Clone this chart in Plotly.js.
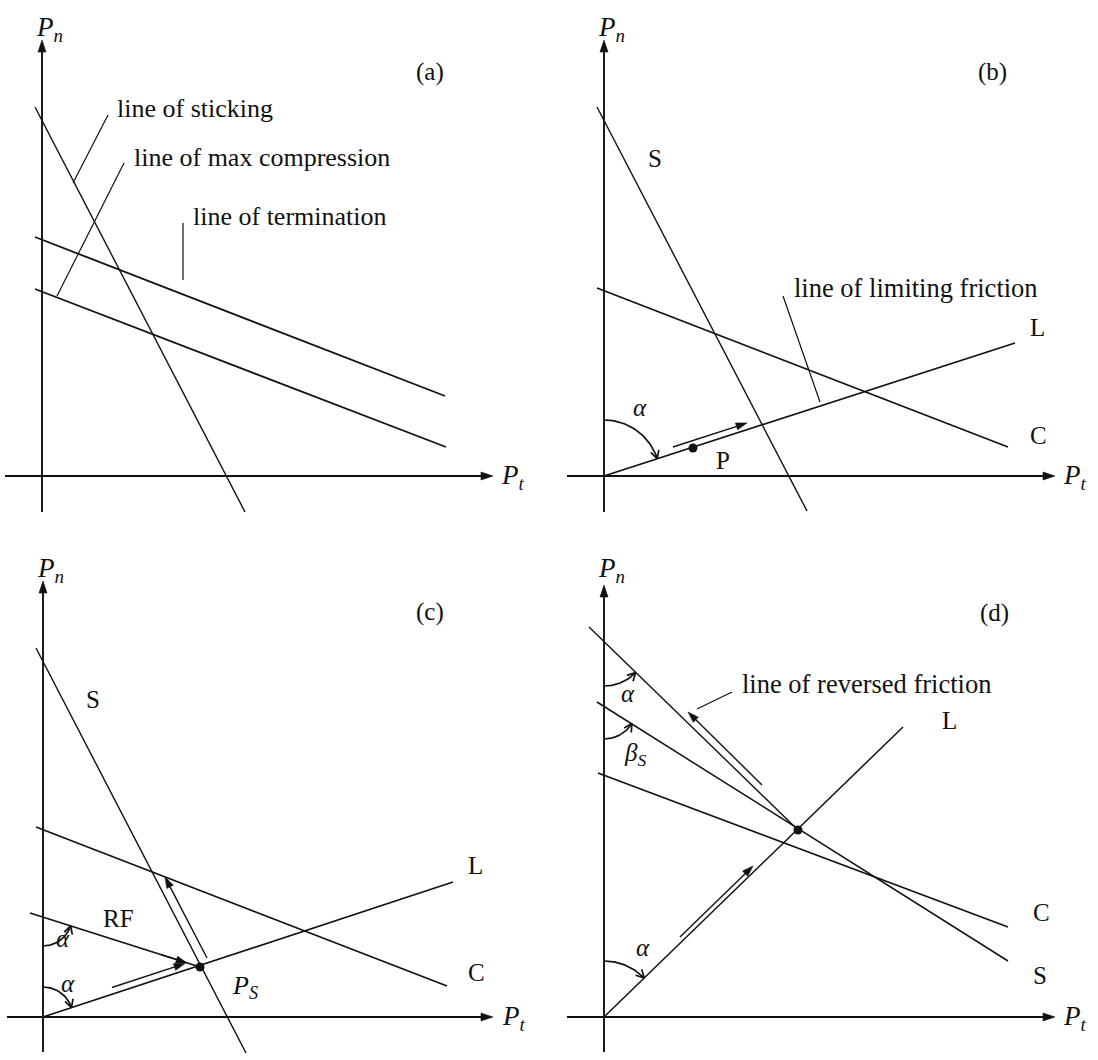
<!DOCTYPE html>
<html><head><meta charset="utf-8">
<script src="https://cdn.plot.ly/plotly-3.0.1.min.js"></script>
<style>html,body{margin:0;padding:0;background:#fff}</style>
</head><body><div id="chart" style="width:1098px;height:1060px"></div>
<script>
// Local coordinates of each panel: origin at the P_t / P_n axes crossing, y upwards, 1 unit = 1 px
// Axis extents [Pt from, Pt to (arrow tip), Pn from, Pn to (arrow tip)]
const axesA = [-37, 451, -36, 436];
const axesB = [-37, 451, -36, 436];
const axesC = [-36, 450, -35, 436];
const axesD = [-37, 451, -35, 432];

// Straight lines [x0, y0, x1, y1, width]
const linesA = [[-7,369,203,-36,1.4],[-7,239,403,80,1.8],[-7,187,404,29,1.8]];
const linesB = [[-7,369,203,-35,1.4],[-7,188,404,29,1.7],[0,0,411,133,1.7]];
const linesC = [[-7,369,203,-36,1.4],[-7,190,404,31,1.7],[0,0,410,135,1.7],[-13,104,157,50,1.6]];
const linesD = [[-15,390,194,187,1.4],[-7,315,404,56,1.5],[-6,244,404,90,1.7],[0,0,299,290,1.5]];

// Leader lines from labels [x0, y0, x1, y1]
const leadersA = [[31,293,66,361],[15,180,82,313],[141,253,141,196]];
const leadersB = [[179,180,216,74]];
const leadersC = [];
const leadersD = [[128,325,93,308]];

// Direction arrows [tail x, tail y, tip x, tip y]
const arrowsA = [];
const arrowsB = [[69,29,143,53]];
const arrowsC = [[69,29.5,142,53.5],[164,59,122,140],[118,62.3,144,54]];
const arrowsD = [[76,80,149,151],[158,232,84,305]];

// Points [x, y]
const dotsA = [];
const dotsB = [[89,28]];
const dotsC = [[157,50]];
const dotsD = [[194,187]];

// Angle arcs [centre x, centre y, radius, start deg, end deg]
const arcsA = [];
const arcsB = [[0,0,56,90,18]];
const arcsC = [[0,100,29,-90,-17.6],[0,0,30,90,18.2]];
const arcsD = [[0,375,44,-90,-44.2],[0,311,33,-90,-32.2],[0,0,56,90,44.1]];

// Labels [text, x, y, xanchor, size]
const PN = '<i>P</i><sub><i>n</i></sub>';
const PT = '<i>P</i><sub><i>t</i></sub>';
const labelsA = [[PN,-8,447,'left',27],[PT,457,-1,'left',27],['(a)',388,404,'center',25],
  ['line of sticking',73,368,'left',26],['line of max compression',90,319,'left',26],['line of termination',149,260,'left',26]];
const labelsB = [[PN,-8,447,'left',27],[PT,457,-1,'left',27],['(b)',388,404,'center',25],
  ['line of limiting friction',188,188,'left',26.5],['S',51,318,'center',25],['L',433,149,'center',25],
  ['C',434,41,'center',25],['P',119,16,'center',25],['<i>α</i>',36,69,'center',25]];
const labelsC = [[PN,-8,447,'left',27],[PT,457,-1,'left',27],['(c)',387,405,'center',25],
  ['S',50,318,'center',25],['RF',75,99,'center',25],['<i>α</i>',20,79,'center',25],['<i>α</i>',25,34,'center',25],
  ['<i>P</i><sub><i>S</i></sub>',202,30,'center',26],['L',432,152,'center',25],['C',433,45,'center',25]];
const labelsD = [[PN,-8,447,'left',27],[PT,457,-1,'left',27],['(d)',390,404,'center',25],
  ['line of reversed friction',136,333,'left',26.5],['L',345,297,'center',25],['C',437,105,'center',25],
  ['S',436,42,'center',25],['<i>α</i>',24,324,'center',25],['<i>β</i><sub><i>S</i></sub>',31,263,'center',25],
  ['<i>α</i>',39,70,'center',25]];

const INK = '#111111';
const FONT = "'Liberation Serif', 'Times New Roman', serif";
const traces = [];
const annotations = [];

function lineTrace(xs, ys, w, xa, ya){
  traces.push({x:xs, y:ys, mode:'lines', line:{color:INK, width:w}, xaxis:xa, yaxis:ya, hoverinfo:'skip', showlegend:false});
}
function filledHead(tx, ty, ux, uy, len, hw, xa, ya){
  const n = Math.hypot(ux, uy); ux/=n; uy/=n;
  const bx = tx - len*ux, by = ty - len*uy;
  traces.push({x:[tx, bx - hw*uy, bx + hw*uy, tx], y:[ty, by + hw*ux, by - hw*ux, ty],
    mode:'lines', fill:'toself', fillcolor:INK, line:{color:INK, width:0.6},
    xaxis:xa, yaxis:ya, hoverinfo:'skip', showlegend:false});
}
function openHead(tx, ty, ux, uy, len, xa, ya){
  const n = Math.hypot(ux, uy); ux/=n; uy/=n;
  const a = 28*Math.PI/180, c = Math.cos(a), s = Math.sin(a);
  const r1x = ux*c - uy*s, r1y = ux*s + uy*c;
  const r2x = ux*c + uy*s, r2y = -ux*s + uy*c;
  lineTrace([tx - len*r1x, tx, tx - len*r2x], [ty - len*r1y, ty, ty - len*r2y], 1.7, xa, ya);
}

function drawPanel(axes, lines, leaders, arrows, dots, arcs, labels, xa, ya){
  lineTrace([axes[0], axes[1]-6], [0,0], 1.9, xa, ya);
  lineTrace([0,0], [axes[2], axes[3]-6], 1.9, xa, ya);
  filledHead(axes[1], 0, 1, 0, 12, 4, xa, ya);
  filledHead(0, axes[3], 0, 1, 12, 4, xa, ya);
  lines.forEach(l => lineTrace([l[0], l[2]], [l[1], l[3]], l[4], xa, ya));
  leaders.forEach(l => lineTrace([l[0], l[2]], [l[1], l[3]], 1.2, xa, ya));
  arrows.forEach(a => {
    const dx = a[2]-a[0], dy = a[3]-a[1], n = Math.hypot(dx, dy);
    lineTrace([a[0], a[2]-6*dx/n], [a[1], a[3]-6*dy/n], 1.4, xa, ya);
    filledHead(a[2], a[3], dx, dy, 11, 3.6, xa, ya);
  });
  dots.forEach(d => traces.push({x:[d[0]], y:[d[1]], mode:'markers', marker:{color:INK, size:9},
    xaxis:xa, yaxis:ya, hoverinfo:'skip', showlegend:false}));
  arcs.forEach(c => {
    const xs = [], ys = [], N = 32;
    for (let i = 0; i <= N; i++){
      const t = (c[3] + (c[4]-c[3])*i/N) * Math.PI/180;
      xs.push(c[0] + c[2]*Math.cos(t)); ys.push(c[1] + c[2]*Math.sin(t));
    }
    lineTrace(xs, ys, 1.7, xa, ya);
    const te = c[4]*Math.PI/180, sgn = c[4] > c[3] ? 1 : -1;
    openHead(xs[N], ys[N], -sgn*Math.sin(te), sgn*Math.cos(te), 9, xa, ya);
  });
  labels.forEach(l => annotations.push({text:l[0], x:l[1], y:l[2], xref:xa, yref:ya, xanchor:l[3], yanchor:'middle',
    showarrow:false, font:{family:FONT, size:l[4], color:INK}}));
}

drawPanel(axesA, linesA, leadersA, arrowsA, dotsA, arcsA, labelsA, 'x', 'y');
drawPanel(axesB, linesB, leadersB, arrowsB, dotsB, arcsB, labelsB, 'x2', 'y2');
drawPanel(axesC, linesC, leadersC, arrowsC, dotsC, arcsC, labelsC, 'x3', 'y3');
drawPanel(axesD, linesD, leadersD, arrowsD, dotsD, arcsD, labelsD, 'x4', 'y4');

const hidden = {visible:false, fixedrange:true};
const layout = {
  width:1098, height:1060, margin:{l:0, r:0, t:0, b:0},
  paper_bgcolor:'#fff', plot_bgcolor:'rgba(0,0,0,0)', showlegend:false, hovermode:false,
  font:{family:FONT, color:INK},
  xaxis: Object.assign({domain:[0,0.5], range:[-42,507]}, hidden),
  yaxis: Object.assign({domain:[0.5,1], range:[-54,476]}, hidden),
  xaxis2: Object.assign({domain:[0.5,1], range:[-55,494]}, hidden),
  yaxis2: Object.assign({domain:[0.5,1], range:[-54,476]}, hidden),
  xaxis3: Object.assign({domain:[0,0.5], range:[-43,506]}, hidden),
  yaxis3: Object.assign({domain:[0,0.5], range:[-43,487]}, hidden),
  xaxis4: Object.assign({domain:[0.5,1], range:[-55,494]}, hidden),
  yaxis4: Object.assign({domain:[0,0.5], range:[-43,487]}, hidden),
  annotations: annotations
};
Plotly.newPlot('chart', traces, layout, {staticPlot:true, displayModeBar:false});
</script></body></html>
